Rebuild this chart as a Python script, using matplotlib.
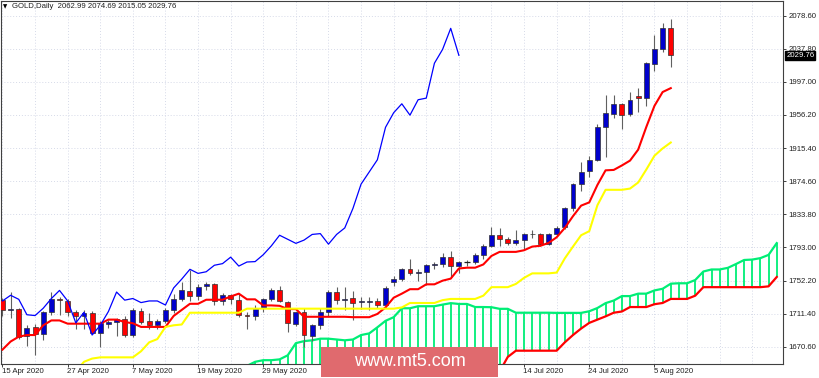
import numpy as np
import matplotlib.pyplot as plt
from matplotlib.patches import Rectangle

plt.rcParams['font.family'] = ['Liberation Sans', 'DejaVu Sans']

# GOLD daily, 15 Apr 2020 .. 7 Aug 2020 (83 bars)
opens = [1728, 1716, 1717, 1684, 1695, 1686, 1713, 1730, 1727, 1713,
         1708, 1712, 1687, 1699, 1701, 1705, 1685, 1715, 1702, 1697,
         1702, 1716, 1729, 1739, 1733, 1745, 1748, 1727, 1734, 1728,
         1710, 1709, 1718, 1730, 1740, 1726, 1699, 1713, 1684, 1697,
         1714, 1738, 1728, 1731, 1726, 1726, 1727, 1722, 1750, 1754,
         1766, 1761, 1763, 1771, 1772, 1781, 1770, 1775, 1775, 1784,
         1795, 1808, 1803, 1799, 1802, 1809, 1810, 1797, 1809, 1818,
         1841, 1871, 1887, 1901, 1941, 1958, 1970, 1957, 1980, 1977,
         2019, 2037, 2062.99]
highs = [1731, 1738, 1718, 1697, 1698, 1715, 1738, 1732, 1729, 1716,
         1716, 1715, 1702, 1704, 1706, 1708, 1718, 1718, 1712, 1705,
         1718, 1735, 1750, 1765, 1748, 1750, 1749, 1737, 1736, 1735,
         1714, 1722, 1731, 1743, 1745, 1727, 1714, 1718, 1699, 1718,
         1740, 1744, 1744, 1739, 1732, 1732, 1731, 1745, 1758, 1768,
         1779, 1766, 1772, 1775, 1786, 1789, 1776, 1777, 1786, 1797,
         1818, 1817, 1806, 1814, 1811, 1814, 1811, 1811, 1820, 1843,
         1872, 1898, 1906, 1945, 1981, 1981, 1971, 1984, 1989, 2021,
         2055, 2069, 2074.69]
lows = [1708, 1706, 1680, 1672, 1660, 1679, 1710, 1710, 1709, 1692,
        1692, 1686, 1670, 1694, 1684, 1683, 1682, 1698, 1693, 1692,
        1700, 1712, 1727, 1727, 1728, 1741, 1722, 1722, 1723, 1707,
        1693, 1704, 1714, 1727, 1726, 1689, 1696, 1670, 1678, 1693,
        1709, 1723, 1716, 1704, 1717, 1716, 1718, 1720, 1745, 1751,
        1759, 1752, 1747, 1767, 1769, 1757, 1761, 1770, 1772, 1779,
        1794, 1795, 1796, 1796, 1791, 1804, 1795, 1796, 1807, 1816,
        1838, 1862, 1880, 1900, 1904, 1952, 1939, 1955, 1960, 1967,
        2010, 2034, 2015.05]
closes = [1716, 1717, 1683, 1694, 1686, 1713, 1730, 1728, 1713, 1708,
          1712, 1687, 1700, 1701, 1705, 1685, 1716, 1701, 1697, 1702,
          1716, 1729, 1741, 1733, 1744, 1748, 1727, 1734, 1729, 1710,
          1709, 1718, 1730, 1740, 1727, 1700, 1713, 1685, 1697, 1714,
          1738, 1728, 1730, 1725, 1727, 1727, 1722, 1743, 1754, 1766,
          1761, 1763, 1771, 1773, 1781, 1770, 1775, 1775.5, 1784, 1795,
          1808, 1803, 1798, 1802, 1809, 1810, 1797, 1809, 1817, 1841,
          1871, 1886, 1901, 1941, 1959, 1970, 1956, 1975, 1977, 2020,
          2037, 2063, 2029.76]

# Ichimoku lines
tenkan = [1667, 1677, 1683, 1685, 1685, 1697, 1703, 1703, 1699, 1699,
          1699, 1699, 1699, 1704, 1704, 1701, 1699.5, 1695, 1695, 1695,
          1695, 1708.5, 1716, 1723.5, 1723.5, 1728.5, 1728.5, 1728.5, 1732.5, 1736,
          1729, 1729, 1721.5, 1721.5, 1721, 1717, 1717, 1707.5, 1707.5, 1707.5,
          1707.5, 1707.5, 1707.5, 1707, 1707, 1707, 1711, 1719, 1731, 1736,
          1741.5, 1741.5, 1747.5, 1747.5, 1752, 1754.5, 1767, 1768, 1768, 1772,
          1782.5, 1787.5, 1787.5, 1787.5, 1789.5, 1794, 1795, 1798.5, 1805.5, 1817,
          1831.5, 1844.5, 1848.5, 1870, 1888, 1888.5, 1894, 1900, 1913.5, 1941.5,
          1967.5, 1984.5, 1989.3]
kijun = [np.nan] * 9 + [
          1640, 1652, 1656, 1657.5, 1657.5, 1657.5, 1657.5, 1657.5, 1665, 1676,
          1680, 1695, 1697, 1698, 1712.5, 1712.5, 1712.5, 1712.5, 1712.5, 1712.5,
          1712.5, 1717.5, 1717.5, 1717.5, 1717.5, 1717.5, 1717.5, 1717.5, 1717.5, 1717.5,
          1717.5, 1717.5, 1717.5, 1717.5, 1717.5, 1717.5, 1717.5, 1717.5, 1717.5, 1717.5,
          1719, 1724.5, 1724.5, 1724.5, 1724.5, 1728, 1729.5, 1729.5, 1729.5, 1729.5,
          1733.5, 1744, 1744, 1744, 1748, 1755.5, 1761, 1761, 1761, 1762,
          1779.5, 1794, 1808, 1813, 1845, 1864, 1864, 1864, 1865.5, 1873,
          1889, 1906, 1915, 1922.3]

# senkou spans (already shifted 26 bars forward), bars 30..95
span_start = 30
span_a = [1647, 1652, 1654, 1654, 1655, 1660, 1675, 1677.5, 1678.5, 1680.5,
          1680.5, 1679.5, 1678.5, 1679.5, 1685, 1687, 1694.5, 1702.5, 1707, 1718,
          1718, 1720.5, 1720.5, 1720.5, 1722.5, 1724.3, 1723.3, 1723.3, 1719.5, 1719.5,
          1719.3, 1717.3, 1717.3, 1712.5, 1712.5, 1712.5, 1712.5, 1712.5, 1712.3, 1712.3,
          1712.3, 1712.3, 1714.3, 1718.3, 1724.3, 1727.5, 1733, 1733, 1736, 1736,
          1740, 1742, 1748.3, 1748.8, 1748.8, 1752.8, 1763.3, 1765.8, 1765.8, 1767.8,
          1772.5, 1777.5, 1778, 1779.8, 1783.8, 1798.3]
span_b = [np.nan] * 31 + [
          1640, 1658, 1665.7, 1665.7, 1665.7, 1665.7, 1665.7, 1665.7, 1676, 1685,
          1693, 1700, 1704, 1708, 1712.5, 1714, 1719.5, 1719.5, 1719.5, 1723,
          1724.5, 1729.5, 1729.5, 1729.5, 1733.5, 1744, 1744, 1744, 1744, 1744,
          1744, 1744, 1744, 1745, 1756.5]

# date labels every 8 bars; the ones under the watermark are not shown
label_bars = [0, 8, 16, 24, 32, 64, 72, 80]
date_labels = ['15 Apr 2020', '27 Apr 2020', '7 May 2020', '19 May 2020', '29 May 2020',
               '14 Jul 2020', '24 Jul 2020', '5 Aug 2020']
price_ticks = [1670.60, 1711.40, 1752.20, 1793.00, 1833.80, 1874.60,
               1915.40, 1956.20, 1997.00, 2037.80, 2078.60]

W, H = 820, 378
fig = plt.figure(figsize=(W / 100, H / 100), dpi=100)
ax = fig.add_axes([1 / W, 14 / H, 782 / W, 363 / H])
ax.set_xlim(-0.18, 95.77)
ax.set_ylim(1649.3, 2096.7)

n = len(closes)
x = np.arange(n)
xs = np.arange(span_start, span_start + len(span_a))
sa = np.array(span_a)
sb = np.array(span_b)

# cloud: vertical green strokes between the spans
bottom = np.where(np.isnan(sb), 1600, sb)
mask = sa > bottom
ax.vlines(xs[mask], bottom[mask], sa[mask], color='#00ee76', lw=1.3, zorder=1)
ax.plot(xs, sa, color='#00ee76', lw=1.6, zorder=2)
ax.plot(xs, sb, color='#ff0000', lw=1.6, zorder=2)

# candles
for i in range(n):
    o, h, l, c = opens[i], highs[i], lows[i], closes[i]
    ax.vlines(i, l, h, color='#606060', lw=0.8, zorder=3)
    if abs(c - o) < 0.8:
        ax.hlines((o + c) / 2, i - 0.32, i + 0.32, color='#202020', lw=0.9, zorder=4)
    else:
        col = '#0000cc' if c > o else '#ff0000'
        ax.add_patch(Rectangle((i - 0.3, min(o, c)), 0.6, abs(c - o),
                               facecolor=col, edgecolor='#303030', lw=0.5, zorder=4))

# tenkan, kijun, chikou
ax.plot(x, tenkan, color='#ff0000', lw=1.5, zorder=5)
ax.plot(x, kijun, color='#ffff00', lw=1.5, zorder=5)
ax.plot(x[:n - 26], closes[26:], color='#0000ff', lw=0.9, zorder=5)

# axes styling
for s in ax.spines.values():
    s.set_color('#404040')
    s.set_linewidth(0.8)
ax.yaxis.tick_right()
ax.set_yticks(price_ticks)
ax.set_yticklabels([f'{v:.2f}' for v in price_ticks])
ax.tick_params(axis='y', labelsize=5.6, length=2.5, width=0.6, pad=1.5, colors='#202020')
ax.set_xticks(range(0, 81, 8))
ax.set_xticklabels([])
ax.set_xticks(range(0, 96, 4), minor=True)
ax.tick_params(axis='x', which='major', length=2.5, width=0.6, colors='#202020')
ax.tick_params(axis='x', which='minor', length=0)
ax.grid(True, which='both', color='#d6dae8', lw=0.7, ls=(0, (1, 2)))
ax.set_axisbelow(True)
for b, lab in zip(label_bars, date_labels):
    ax.text(b - 0.1, -0.012, lab, transform=ax.get_xaxis_transform(),
            ha='left', va='top', fontsize=5.6, color='#202020')

# last price label
ax.text(1.004, closes[-1], f'{closes[-1]:.2f}', transform=ax.get_yaxis_transform(),
        ha='left', va='center', fontsize=5.6, color='white', zorder=10,
        bbox=dict(boxstyle='square,pad=0.12', fc='black', ec='black'))

# header
fig.text(3 / W, 1 - 7 / H, '\u25bc', fontsize=4, va='center', ha='left',
         family='DejaVu Sans')
fig.text(12 / W, 1 - 7 / H, 'GOLD,Daily  2062.99 2074.69 2015.05 2029.76',
         fontsize=5.6, va='center', ha='left', color='#202020')

# watermark
fig.patches.append(Rectangle((321 / W, 1.5 / H), 177 / W, 30 / H, transform=fig.transFigure,
                             facecolor='#e06a6e', edgecolor='none', zorder=20))
fig.text(410 / W, 16 / H, 'www.mt5.com', fontsize=13, color='white',
         ha='center', va='center', zorder=21)

fig.savefig('out.png', dpi=100, facecolor='white')
